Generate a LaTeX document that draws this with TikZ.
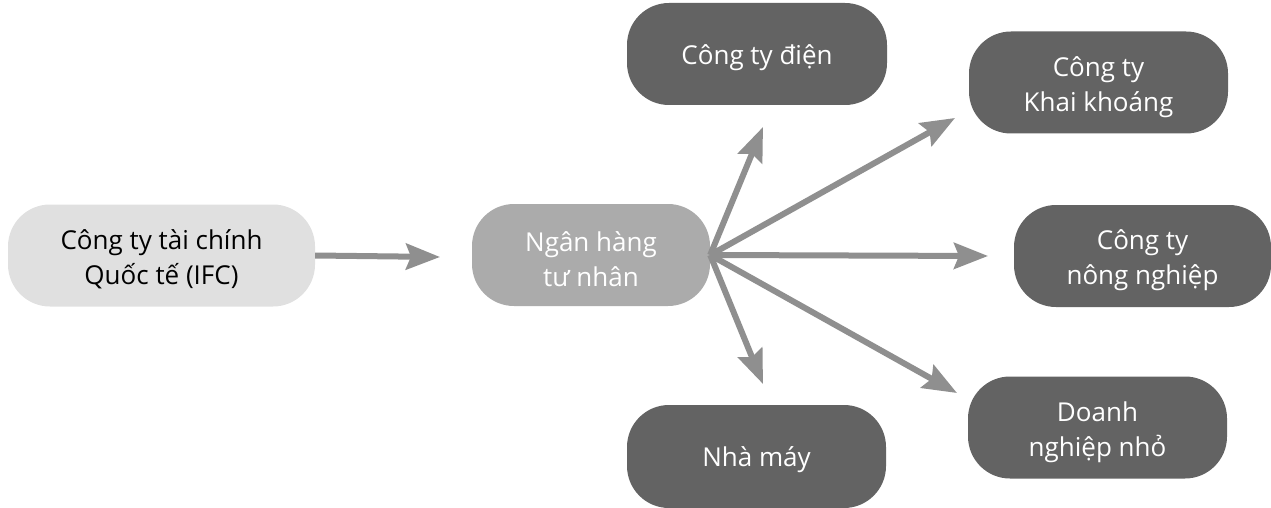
\documentclass[tikz,border=0pt]{standalone}
\usepackage{fontspec}
\setmainfont{Open Sans}
\usetikzlibrary{arrows.meta}
\definecolor{lightbox}{HTML}{E0E0E0}
\definecolor{midbox}{HTML}{ABABAB}
\definecolor{darkbox}{HTML}{636363}
\definecolor{arrowgray}{HTML}{8F8F8F}
\begin{document}
\begin{tikzpicture}[x=1pt,y=-1pt,
  box/.style={rectangle, rounded corners=42pt, minimum height=102pt, inner sep=0pt},
  lightnode/.style={box, fill=lightbox},
  midnode/.style={box, fill=midbox},
  darknode/.style={box, fill=darkbox},
  label text/.style={align=center, inner sep=0pt, font=\fontsize{26}{35}\selectfont},
  flow/.style={draw=arrowgray, line width=6pt,
    -{Stealth[length=34pt,width=26pt,inset=5pt]}}]
\useasboundingbox (0,0) rectangle (1271,508);

\node[lightnode, minimum width=307pt] (ifc) at (161.5,255.5) {};
\node[midnode, minimum width=238pt] (bank) at (591,255) {};
\node[darknode, minimum width=260pt] (dien) at (757,54) {};
\node[darknode, minimum width=259pt] (khai) at (1098.5,82.5) {};
\node[darknode, minimum width=257pt] (nong) at (1142.5,256) {};
\node[darknode, minimum width=259pt, minimum height=103pt] (nha) at (756.5,456.5) {};
\node[darknode, minimum width=259pt] (doanh) at (1097.5,427.5) {};

\node[label text, text=black] (ifc-t) at ([yshift=-4pt]ifc.center) {Công ty tài chính\\Quốc tế (IFC)};
\node[label text, text=white] (bank-t) at ([yshift=-4pt]bank.center) {Ngân hàng\\tư nhân};
\node[label text, text=white] (dien-t) at ([yshift=-4pt]dien.center) {Công ty điện};
\node[label text, text=white] (khai-t) at ([yshift=-5pt]khai.center) {Công ty\\Khai khoáng};
\node[label text, text=white] (nong-t) at ([yshift=-4pt]nong.center) {Công ty\\nông nghiệp};
\node[label text, text=white] (nha-t) at ([yshift=-3pt]nha.center) {Nhà máy};
\node[label text, text=white] (doanh-t) at ([yshift=-5pt]doanh.center) {Doanh\\nghiệp nhỏ};

\coordinate (tbank) at (440,257);
\coordinate (tdien) at (763,127);
\coordinate (tkhai) at (955,118);
\coordinate (tnong) at (988,256);
\coordinate (tnha) at (763,384);
\coordinate (tdoanh) at (957,393);

\draw[flow] (ifc.east) -- (tbank);
\draw[flow] (bank.east) -- (tdien);
\draw[flow] (bank.east) -- (tkhai);
\draw[flow] (bank.east) -- (tnong);
\draw[flow] (bank.east) -- (tnha);
\draw[flow] (bank.east) -- (tdoanh);
\end{tikzpicture}
\end{document}
